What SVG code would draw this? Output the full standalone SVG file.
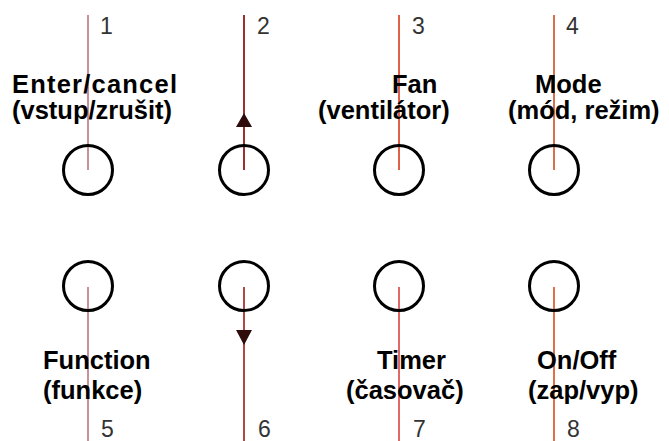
<svg xmlns="http://www.w3.org/2000/svg" width="669" height="441" viewBox="0 0 669 441">
<style>
.btn{fill:none;stroke:#000;stroke-width:3}
.lbl{font-family:"Liberation Sans",Arial,sans-serif;font-weight:bold;font-size:25.5px;fill:#000}
.num{font-family:"Liberation Sans",Arial,sans-serif;font-size:23px;fill:#333}
.ln{stroke-width:2;fill:none}
.arr{fill:#2e0c0c}
</style>
<rect width="669" height="441" fill="#fff"/>
<g id="connectors">
<line class="ln" x1="88" y1="15" x2="88" y2="170" stroke="#c8919a"/>
<line class="ln" x1="244" y1="15" x2="244" y2="170" stroke="#9b3030"/>
<line class="ln" x1="399" y1="15" x2="399" y2="170" stroke="#e0604a"/>
<line class="ln" x1="554" y1="15" x2="554" y2="170" stroke="#d8704a"/>
<line class="ln" x1="88" y1="287" x2="88" y2="441" stroke="#c8929c"/>
<line class="ln" x1="244" y1="287" x2="244" y2="441" stroke="#b04848"/>
<line class="ln" x1="399" y1="287" x2="399" y2="441" stroke="#e06868"/>
<line class="ln" x1="554" y1="287" x2="554" y2="441" stroke="#e07048"/>
<polygon class="arr" points="244,113 252,127 236,127"/>
<polygon class="arr" points="236,330 252,330 244,345"/>
</g>
<g id="n1">
<circle class="btn" cx="88" cy="170" r="24.5"/>
<text class="num" x="100" y="34">1</text>
<text class="lbl" x="12" y="93" textLength="165" lengthAdjust="spacing">Enter/cancel</text>
<text class="lbl" x="12" y="119">(vstup/zrušit)</text>
</g>
<g id="n2">
<circle class="btn" cx="244" cy="170" r="24.5"/>
<text class="num" x="257" y="34">2</text>
</g>
<g id="n3">
<circle class="btn" cx="399" cy="170" r="24.5"/>
<text class="num" x="412" y="34">3</text>
<text class="lbl" x="392" y="93">Fan</text>
<text class="lbl" x="318" y="119">(ventilátor)</text>
</g>
<g id="n4">
<circle class="btn" cx="554" cy="170" r="24.5"/>
<text class="num" x="566" y="34">4</text>
<text class="lbl" x="535" y="93">Mode</text>
<text class="lbl" x="508" y="119">(mód, režim)</text>
</g>
<g id="n5">
<circle class="btn" cx="88" cy="286" r="24.5"/>
<text class="lbl" x="43" y="369">Function</text>
<text class="lbl" x="43" y="399">(funkce)</text>
<text class="num" x="101" y="437">5</text>
</g>
<g id="n6">
<circle class="btn" cx="244" cy="286" r="24.5"/>
<text class="num" x="258" y="437">6</text>
</g>
<g id="n7">
<circle class="btn" cx="399" cy="286" r="24.5"/>
<text class="lbl" x="377" y="369">Timer</text>
<text class="lbl" x="346" y="399">(časovač)</text>
<text class="num" x="413" y="437">7</text>
</g>
<g id="n8">
<circle class="btn" cx="554" cy="286" r="24.5"/>
<text class="lbl" x="537" y="369">On/Off</text>
<text class="lbl" x="528" y="399">(zap/vyp)</text>
<text class="num" x="567" y="437">8</text>
</g>
</svg>
